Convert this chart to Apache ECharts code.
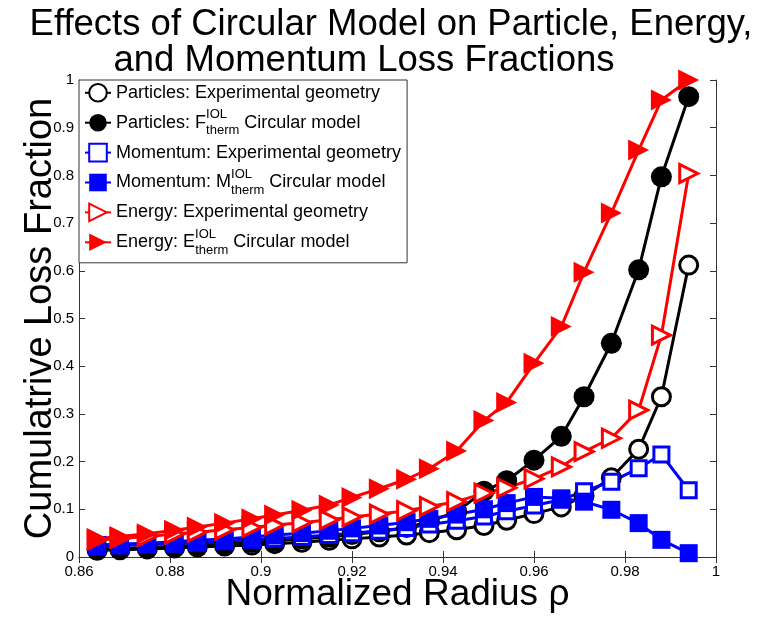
<!DOCTYPE html>
<html>
<head>
<meta charset="utf-8">
<script src="https://cdn.jsdelivr.net/npm/echarts@6/dist/echarts.min.js"></script>
<style>html,body{margin:0;padding:0;background:#fff;}#c{width:757px;height:619px;}</style>
</head>
<body>
<div id="c"></div>
<script>
// ---- data ----
const rho = [0.864, 0.869, 0.875, 0.881, 0.886, 0.892, 0.898, 0.903, 0.909, 0.915, 0.920, 0.926,
             0.932, 0.937, 0.943, 0.949, 0.954, 0.960, 0.966, 0.971, 0.977, 0.983, 0.988, 0.994];
const particlesExp = [0.014, 0.015, 0.017, 0.019, 0.021, 0.023, 0.025, 0.028, 0.031, 0.035, 0.038, 0.042,
                      0.046, 0.051, 0.057, 0.066, 0.077, 0.091, 0.105, 0.128, 0.166, 0.226, 0.336, 0.612];
const particlesCirc = [0.016, 0.018, 0.020, 0.022, 0.025, 0.028, 0.031, 0.034, 0.038, 0.042, 0.047, 0.053,
                       0.062, 0.074, 0.095, 0.138, 0.160, 0.203, 0.253, 0.336, 0.448, 0.602, 0.797, 0.965];
const momentumExp = [0.022, 0.024, 0.026, 0.028, 0.030, 0.033, 0.036, 0.039, 0.042, 0.046, 0.050, 0.055,
                     0.061, 0.068, 0.076, 0.085, 0.096, 0.108, 0.120, 0.138, 0.158, 0.186, 0.215, 0.140];
const momentumCirc = [0.025, 0.027, 0.029, 0.032, 0.035, 0.038, 0.042, 0.046, 0.050, 0.055, 0.060, 0.066,
                      0.073, 0.080, 0.089, 0.100, 0.113, 0.126, 0.123, 0.116, 0.099, 0.071, 0.036, 0.008];
const energyExp = [0.036, 0.039, 0.043, 0.048, 0.052, 0.057, 0.062, 0.067, 0.072, 0.078, 0.084, 0.090,
                   0.097, 0.106, 0.116, 0.134, 0.145, 0.164, 0.189, 0.221, 0.249, 0.308, 0.465, 0.804];
const energyCirc = [0.039, 0.043, 0.049, 0.056, 0.063, 0.071, 0.080, 0.088, 0.098, 0.109, 0.125, 0.143,
                    0.163, 0.185, 0.222, 0.286, 0.324, 0.406, 0.483, 0.597, 0.721, 0.853, 0.958, 1.000];

const seriesNames = [
  'Particles: Experimental geometry',
  'Particles: F therm IOL Circular model',
  'Momentum: Experimental geometry',
  'Momentum: M therm IOL Circular model',
  'Energy: Experimental geometry',
  'Energy: E therm IOL Circular model'
];
const legendRich = {
  'Particles: Experimental geometry': '{t|Particles: Experimental geometry}',
  'Particles: F therm IOL Circular model': '{t|Particles: F}{sup|IOL}{sub|therm}{t| Circular model}',
  'Momentum: Experimental geometry': '{t|Momentum: Experimental geometry}',
  'Momentum: M therm IOL Circular model': '{t|Momentum: M}{sup|IOL}{sub|therm}{t| Circular model}',
  'Energy: Experimental geometry': '{t|Energy: Experimental geometry}',
  'Energy: E therm IOL Circular model': '{t|Energy: E}{sup|IOL}{sub|therm}{t| Circular model}'
};
const titleLines = ['Effects of Circular Model on Particle, Energy,', 'and Momentum Loss Fractions'];
const xName = 'Normalized Radius \u03c1';
const yName = 'Cumulatrive Loss Fraction';

const FONT = "'Liberation Sans', Arial, sans-serif";
const AX = '#333';

function pairs(ys) { return rho.map((x, i) => [x, ys[i]]); }

function mk(name, ys, color, symbol, filled, size, rotate) {
  return {
    name: name, type: 'line', data: pairs(ys),
    symbol: symbol, symbolSize: size, symbolRotate: rotate || 0,
    showAllSymbol: true,
    lineStyle: { color: color, width: 3 },
    itemStyle: filled ? { color: color, borderWidth: 0 } : { color: '#fff', borderColor: color, borderWidth: 3 },
    emphasis: { disabled: true },
    animation: false
  };
}

const chart = echarts.init(document.getElementById('c'), null, { renderer: 'canvas' });
const tickCommon = { inside: true, length: 6, lineStyle: { color: AX, width: 1 } };
chart.setOption({
  backgroundColor: '#fff',
  animation: false,
  title: [
    { text: titleLines[0], left: 391, top: 6, textAlign: 'center', padding: 0,
      textStyle: { fontFamily: FONT, fontSize: 36.5, lineHeight: 37, fontWeight: 'normal', color: '#000' } },
    { text: titleLines[1], left: 364, top: 42, textAlign: 'center', padding: 0,
      textStyle: { fontFamily: FONT, fontSize: 36.5, lineHeight: 37, fontWeight: 'normal', color: '#000' } }
  ],
  grid: { left: 79, right: 41, top: 80, bottom: 62, containLabel: false },
  xAxis: [
    { type: 'value', min: 0.86, max: 1, interval: 0.02, position: 'bottom',
      axisLine: { show: true, lineStyle: { color: AX, width: 1 } },
      axisTick: tickCommon, splitLine: { show: false },
      axisLabel: { color: '#000', fontFamily: FONT, fontSize: 15, margin: 7,
                   formatter: v => String(+v.toFixed(2)) },
      name: xName, nameLocation: 'middle', nameGap: 19, nameMoveOverlap: false,
      nameTextStyle: { fontFamily: FONT, fontSize: 37, color: '#000', verticalAlign: 'top' } },
    { type: 'value', min: 0.86, max: 1, interval: 0.02, position: 'top',
      axisLine: { show: true, lineStyle: { color: AX, width: 1 } },
      axisTick: tickCommon, splitLine: { show: false }, axisLabel: { show: false } }
  ],
  yAxis: [
    { type: 'value', min: 0, max: 1, interval: 0.1, position: 'left',
      axisLine: { show: true, lineStyle: { color: AX, width: 1 } },
      axisTick: tickCommon, splitLine: { show: false },
      axisLabel: { color: '#000', fontFamily: FONT, fontSize: 15, margin: 5,
                   formatter: v => String(+v.toFixed(1)) },
      name: yName, nameLocation: 'middle', nameGap: 19, nameMoveOverlap: false,
      nameTextStyle: { fontFamily: FONT, fontSize: 38, color: '#000' } },
    { type: 'value', min: 0, max: 1, interval: 0.1, position: 'right',
      axisLine: { show: true, lineStyle: { color: AX, width: 1 } },
      axisTick: tickCommon, splitLine: { show: false }, axisLabel: { show: false } }
  ],
  legend: {
    orient: 'vertical', left: 79, top: 80,
    padding: [3, 6, 6, 5], itemGap: 5.6,
    itemWidth: 26, itemHeight: 22,
    backgroundColor: '#fff', borderColor: AX, borderWidth: 1,
    data: seriesNames,
    formatter: name => legendRich[name],
    selectedMode: false,
    textStyle: {
      fontFamily: FONT, fontSize: 18, color: '#000',
      rich: {
        t: { fontFamily: FONT, fontSize: 18, color: '#000', lineHeight: 29 },
        sup: { fontFamily: FONT, fontSize: 13, color: '#000', lineHeight: 8, verticalAlign: 'top', width: 0.1 },
        sub: { fontFamily: FONT, fontSize: 13, color: '#000', lineHeight: 8, verticalAlign: 'bottom' }
      }
    }
  },
  series: [
    mk(seriesNames[0], particlesExp, '#000000', 'circle', false, 18),
    mk(seriesNames[1], particlesCirc, '#000000', 'circle', true, 21),
    mk(seriesNames[2], momentumExp, '#0000ff', 'rect', false, 15),
    mk(seriesNames[3], momentumCirc, '#0000ff', 'rect', true, 18),
    mk(seriesNames[4], energyExp, '#ff0000', 'triangle', false, 18, -90),
    mk(seriesNames[5], energyCirc, '#ff0000', 'triangle', true, 21, -90)
  ]
});
</script>
</body>
</html>
